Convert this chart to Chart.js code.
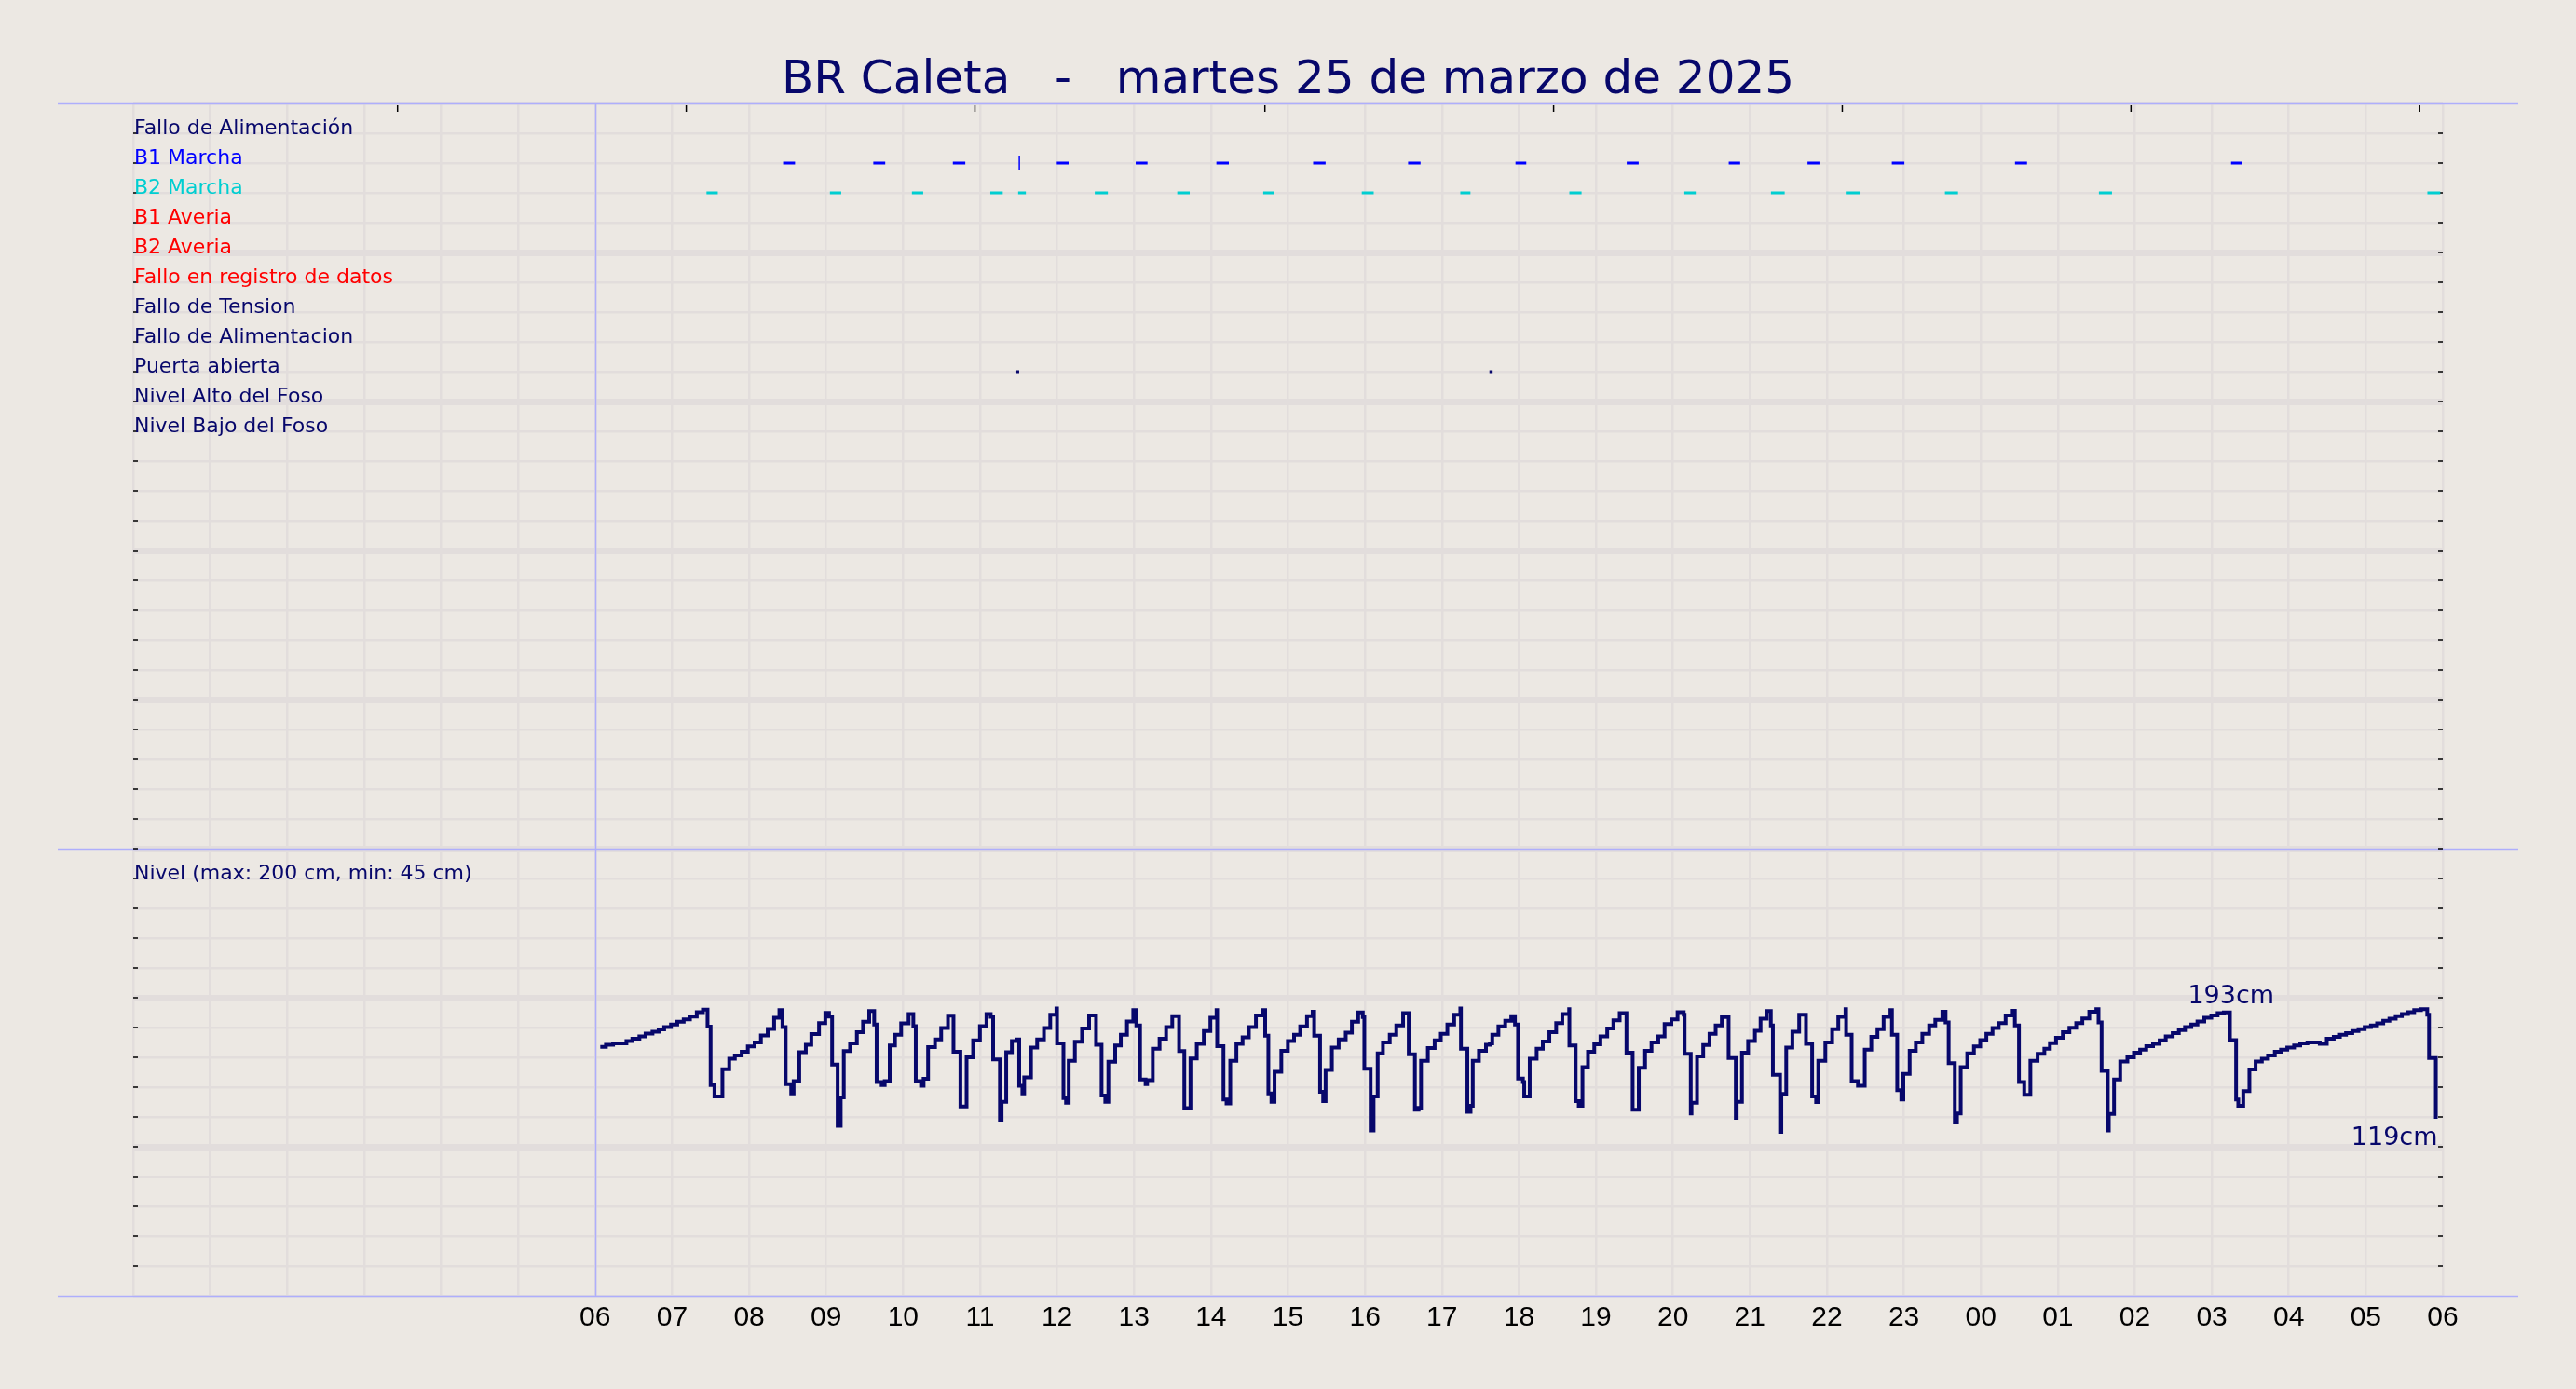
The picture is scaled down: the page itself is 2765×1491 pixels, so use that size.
<!DOCTYPE html>
<html lang="es">
<head>
<meta charset="utf-8">
<title>BR Caleta - nivel y señales</title>
<script src="https://cdn.jsdelivr.net/npm/chart.js@4.4.1/dist/chart.umd.min.js"></script>
<style>
    html, body { margin: 0; padding: 0; background: #ece8e3; }
    #grafico { display: block; }
</style>
</head>
<body>
<canvas id="grafico" width="2765" height="1491"></canvas>
<script>
// ======================== DATOS ========================
// tiempos en minutos desde las 00:00 del 25/03 (360 = 06:00, 1800 = 06:00 del 26/03)
const titulo = 'BR Caleta   -   martes 25 de marzo de 2025';
const horas = ['06', '07', '08', '09', '10', '11', '12', '13', '14', '15', '16', '17', '18',
    '19', '20', '21', '22', '23', '00', '01', '02', '03', '04', '05', '06'];

const senales = ['Fallo de Alimentación', 'B1 Marcha', 'B2 Marcha', 'B1 Averia', 'B2 Averia',
    'Fallo en registro de datos', 'Fallo de Tension', 'Fallo de Alimentacion', 'Puerta abierta',
    'Nivel Alto del Foso', 'Nivel Bajo del Foso'];

const b1Inicio = [506.5, 576.8, 638.8, 719.8, 781.3, 844.2, 919.6, 993.6, 1077.3, 1164, 1243.5, 1304.9, 1370.6, 1466.6, 1635];
const b1Fin = [515.8, 586.1, 648.5, 729, 790.5, 853.9, 929.3, 1003.3, 1085.7, 1173.3, 1252.4, 1314.2, 1380.4, 1476, 1643.5];
const b1Pulsos = [690.6];

const b2Inicio = [446.8, 543, 606.9, 668, 689.7, 749.4, 813.7, 880.7, 957.5, 1034.3, 1119.3, 1208.9, 1276.4, 1334.7, 1412, 1532, 1788];
const b2Fin = [455.6, 551.8, 615.7, 677.7, 695.7, 759.6, 823.4, 889.1, 966.8, 1042.2, 1128.8, 1217.8, 1287.1, 1346.2, 1422.2, 1542.2, 1798];

const puertaInicio = [688.3, 1057];
const puertaFin = [690.5, 1059.5];

const nivelMin = [
    364, 368.4, 374, 384.4, 389, 394.5, 399.3, 404.7, 409.5, 413.8, 419.1, 424, 429, 433.9, 439.2, 444,
    447.6, 450, 453, 459.2, 464.5, 468.9, 474.2, 479, 484.3, 489.2, 494.5, 499.5, 503.6,
    506, 508.5, 512.8, 514.7, 519.1, 524.2, 528.5, 534.5, 539.4, 542.3,
    544.7, 549, 551.4, 553.8, 558.7, 564, 568.8, 573.6,
    577.5, 579.4, 583.3, 585.7, 589.6, 593.7, 598.5, 604.3,
    608, 609.9, 614, 616, 619.5, 624.9, 629.7, 635,
    639.3, 644.7, 649.5, 654.6, 659.9, 665, 668.3,
    670.2, 675.5, 676.8, 680.4, 684.8, 688.9,
    690.5, 693, 694.4, 699.7, 704.5, 709.8, 714.7, 719.5,
    720, 725, 727, 729.1, 733.9, 739.5, 745,
    750.4, 754.7, 757.6, 760, 765.3, 769.7, 774.5, 779.4,
    781.8, 784.7, 789, 790.2, 794.6, 799.9, 805, 809.8,
    815.1, 819.2, 824, 828.9, 834.4, 839.5, 844.3,
    844.8, 849.7, 852.1, 855, 859.8, 864.6, 869.5, 875, 880.6,
    882.2, 884.7, 887.1, 889.5, 894.8, 899.9, 904.7, 909.5, 914.8, 919.2,
    920.4, 925, 927.4, 929.3, 934.2, 939.5, 945, 949.8, 954.7, 958.3,
    959.5, 964.4, 966.7, 969.9, 974, 979.3, 984.4, 989.7,
    994.1, 998.9, 1001.8, 1003.7, 1009, 1014.3, 1019.1, 1024.2, 1029.5, 1034.3,
    1034.8, 1039.8, 1042.3, 1044, 1048.8, 1054.3, 1057.3, 1059.2, 1064, 1069.3, 1074, 1076.9,
    1079.3, 1083.1, 1084.1, 1088.4, 1093.8, 1098.6, 1103.7, 1109, 1113.8, 1119.1,
    1119.3, 1124.2, 1126.6, 1129.5, 1133.8, 1138.7, 1143.5, 1148.8, 1153.6, 1158.5,
    1163.8, 1168.6, 1173.4, 1178.3, 1183.3, 1188.6, 1193.5, 1198.8, 1203.6, 1208.4,
    1209.1, 1213.9, 1214.5, 1218.8, 1223.6, 1228.5, 1233.3, 1238.1,
    1243.4, 1249, 1249.7, 1253.8, 1258.6, 1263.9, 1268.3, 1273.1,
    1276.3, 1277.9, 1283.5, 1284.5, 1288.3, 1293.1, 1298.4,
    1303.7, 1308.5, 1311.6, 1313.3, 1318.8, 1324.1, 1328.9, 1334.5,
    1335, 1339.3, 1344.2, 1349.5, 1354.6, 1359.4, 1364.2, 1369.5,
    1370.7, 1374.8, 1378, 1379.6, 1384.5, 1389.3, 1394.4, 1399.7, 1404.5, 1410,
    1412.5, 1414.9, 1419.7, 1421.4, 1424.3, 1429.4, 1434.6, 1439.5, 1444.3, 1449.1, 1453.9, 1459.3, 1464.8,
    1466.5, 1469.7, 1473.8, 1478.6, 1484.2, 1489.5, 1493.8, 1498.6, 1503.9, 1509, 1514.3, 1519.1, 1524.5, 1530,
    1531.7, 1534.1, 1538.9, 1539.7, 1543.8, 1548.6, 1554.2, 1559.3, 1564.1, 1568.9, 1574.2, 1579.3, 1584.1,
    1589.5, 1594.3, 1599.1, 1604, 1608.8, 1614.1, 1619.6, 1624.5, 1629.3,
    1634.1, 1638.9, 1640.6, 1644.5, 1649.3, 1654.1, 1659, 1663.8, 1669.1, 1673.9, 1678.8, 1684.1, 1688.9,
    1694.5, 1704.1, 1709.6, 1715, 1719.8, 1724.6, 1729.5, 1734.3, 1739.1, 1744, 1748.8, 1753.6, 1758.4,
    1763.3, 1768.1, 1772.9, 1777.7, 1783,
    1787.9, 1789.3, 1794.6, 1796
];
const nivelCm = [
    167, 168.5, 169.4, 171, 172.5, 174.1, 176, 177.2, 178.7, 180.3, 182, 183.9, 185.5, 187.4, 190.3, 192.1,
    180.7, 141.4, 133.8, 152, 159, 161.3, 163.8, 167.3, 170, 174.7, 179.1, 186.5, 191.7,
    180.3, 142, 135.8, 144.1, 163.4, 168.5, 175.6, 183, 189.9, 187.4,
    155.1, 114.1, 133.1, 164.2, 169.4, 176.8, 183.9, 191.1,
    182, 143.5, 141.4, 144.1, 167.9, 175.2, 182.8, 189,
    181, 144.1, 141, 145.6, 166.9, 172, 179.7, 188,
    163.8, 127.1, 160, 171.4, 181, 189, 187.2,
    158.6, 118.2, 130.2, 163.4, 171, 172,
    141, 135.8, 146.6, 166.5, 172, 179.7, 188.6, 192.8,
    169.4, 132.7, 129.6, 157.6, 170.5, 179.3, 188.2,
    168.5, 134.4, 130.2, 157, 167.9, 175.2, 184.1, 191.7,
    181.4, 145.1, 142, 144.7, 165.8, 172.5, 180.3, 187.6,
    164.2, 125.9, 159.2, 169, 177.6, 186.5, 191.7,
    167.5, 131.7, 129, 157.6, 169, 173.5, 180.3, 188.2, 191.7,
    174.5, 135.8, 130.2, 150.3, 164.4, 171, 175.2, 180.8, 187.6, 190.7,
    174.5, 136.9, 130.7, 151.5, 166.5, 172, 176.6, 183.9, 190.1, 187,
    152.4, 111, 133.8, 162.7, 170, 175.2, 181.4, 189.7,
    162.1, 124.9, 126.1, 157.6, 166.3, 171.4, 175.8, 182, 188.6, 192.8,
    165.8, 123.4, 127.5, 157.6, 164.4, 168.5, 169.4, 175.2, 180.8, 184.5, 187.6, 182,
    145.8, 143.5, 133.8, 159, 165.8, 170.6, 176.8, 183, 189, 192.3,
    167.9, 130.7, 127.5, 153.4, 163.8, 168.7, 174.1, 179.3, 184.9, 189.7,
    163.2, 124.9, 153, 164.4, 170, 174.1, 182.4, 185.5, 190.3, 188.6,
    162.3, 122.4, 129.6, 160.6, 168.3, 175.8, 181.4, 187,
    159.6, 119.3, 130.2, 163.2, 171, 177.8, 185.9, 191.1,
    181.4, 148.3, 110, 135.4, 166.5, 177.2, 188.6,
    169, 133.8, 130, 157.6, 170, 178.9, 187.2, 192.3,
    175.2, 144.1, 141, 165.2, 173.7, 178.9, 187.2, 191.7,
    175.2, 137.9, 131.7, 148.9, 164.4, 170, 175.8, 181.4, 185.1, 190.7,
    183.4, 156.1, 116.2, 122.4, 153.4, 162.7, 167.3, 171.6, 175.8, 179.7, 183, 188.2, 191.3,
    181.4, 143.5, 134.8, 157.6, 162.3, 165.8, 169.6, 173.1, 176.8, 179.9, 183, 186.1, 190.7, 192.3,
    183.4, 150.9, 111, 122, 145.1, 157.2, 160, 163.2, 165.2, 167.5, 169, 171.4, 174.1,
    176.2, 178.3, 180.3, 182, 184.1, 186.5, 188.2, 189.7, 190.1,
    171.6, 131.7, 127.5, 137.3, 151.8, 157.2, 159, 161.3, 163.8, 165.2, 166.5, 167.9, 169.4,
    170, 169, 172.5, 173.7, 175.2, 176.2, 177.6, 178.9, 180.3, 181.4, 182.8, 184.5, 185.9,
    187.6, 189, 190.3, 191.7, 192.3,
    188.6, 159.6, 120, 120
];

const nivelTexto = 'Nivel (max: 200 cm, min: 45 cm)';
const marcasSuperiores = [206, 431, 656, 882, 1107, 1332, 1557, 1782];

// ======================== ESTILO ========================
const FONDO = '#ece8e3';
const REJILLA = '#e2dddc';
const AZUL_MARCO = '#aeaefc';
const MARINO = '#07076b';
const coloresSenal = [MARINO, '#0000ff', '#00ced1', '#ff0000', '#ff0000', '#ff0000',
    MARINO, MARINO, MARINO, MARINO, MARINO];

// fila de cada señal (en la misma escala vertical que el nivel)
const filaSenal = (i) => 780 - 20 * i;

function tramos(inicio, fin, fila) {
    const pts = [];
    inicio.forEach((t, i) => {
        pts.push({ x: t, y: fila }, { x: fin[i], y: fila }, { x: fin[i], y: null });
    });
    return pts;
}

const decoracion = {
    id: 'decoracion',
    beforeDraw(chart) {
        const { ctx } = chart;
        ctx.save();
        ctx.fillStyle = FONDO;
        ctx.fillRect(0, 0, chart.width, chart.height);
        ctx.restore();
    },
    beforeDatasetsDraw(chart) {
        const { ctx, chartArea: a, scales: { x, y } } = chart;
        ctx.save();
        // líneas del marco
        ctx.strokeStyle = AZUL_MARCO;
        ctx.lineWidth = 1.5;
        [800, 300, 0].forEach((v) => {
            const py = Math.round(y.getPixelForValue(v)) + 0.5;
            ctx.beginPath();
            ctx.moveTo(62, py);
            ctx.lineTo(2703, py);
            ctx.stroke();
        });
        const px6 = Math.round(x.getPixelForValue(360)) + 0.5;
        ctx.beginPath();
        ctx.moveTo(px6, a.top);
        ctx.lineTo(px6, a.bottom);
        ctx.stroke();

        // marcas pequeñas hacia dentro
        ctx.strokeStyle = '#000';
        ctx.lineWidth = 1.5;
        y.ticks.forEach((t) => {
            if (t.value <= 0 || t.value >= 800) return;
            const py = y.getPixelForValue(t.value);
            ctx.beginPath();
            ctx.moveTo(a.left, py);
            ctx.lineTo(a.left + 5, py);
            ctx.moveTo(a.right - 5, py);
            ctx.lineTo(a.right, py);
            ctx.stroke();
        });
        marcasSuperiores.forEach((m) => {
            const px = x.getPixelForValue(m);
            ctx.beginPath();
            ctx.moveTo(px, a.top + 2);
            ctx.lineTo(px, a.top + 9);
            ctx.stroke();
        });
        ctx.restore();
    },
    afterDatasetsDraw(chart) {
        const { ctx, chartArea: a, scales: { x, y } } = chart;
        ctx.save();
        // título
        ctx.fillStyle = MARINO;
        ctx.font = '50px "DejaVu Sans"';
        ctx.textAlign = 'center';
        ctx.textBaseline = 'alphabetic';
        ctx.fillText(titulo, chart.width / 2, 100);

        // nombres de señales
        ctx.font = '22px "DejaVu Sans"';
        ctx.textAlign = 'left';
        senales.forEach((s, i) => {
            ctx.fillStyle = coloresSenal[i];
            ctx.fillText(s, a.left + 1, y.getPixelForValue(filaSenal(i)) + 1);
        });
        ctx.fillStyle = MARINO;
        ctx.fillText(nivelTexto, a.left + 1, y.getPixelForValue(280) + 1);

        // valores del nivel
        ctx.font = '27px "DejaVu Sans"';
        ctx.textAlign = 'center';
        ctx.fillText('193cm', x.getPixelForValue(1635), y.getPixelForValue(196));
        const ultimo = nivelCm[nivelCm.length - 1];
        ctx.textAlign = 'right';
        ctx.fillText(Math.round(ultimo - 1) + 'cm', x.getPixelForValue(1796), y.getPixelForValue(ultimo) + 30);
        ctx.restore();
    }
};

const datosNivel = nivelMin.map((t, i) => ({ x: t, y: nivelCm[i] }));

new Chart(document.getElementById('grafico'), {
    type: 'line',
    data: {
        datasets: [
            {
                label: 'Nivel',
                data: datosNivel,
                stepped: true,
                borderColor: MARINO,
                borderWidth: 4,
                pointRadius: 0,
                borderJoinStyle: 'miter',
            },
            {
                label: 'B1 Marcha',
                data: tramos(b1Inicio, b1Fin, filaSenal(1)),
                borderColor: '#0000ff',
                borderWidth: 3,
                borderCapStyle: 'butt',
                pointRadius: 0,
            },
            {
                label: 'B1 pulso',
                data: b1Pulsos.map((t) => ({ x: t, y: filaSenal(1) })),
                showLine: false,
                pointStyle: 'line',
                rotation: 90,
                pointRadius: 8,
                borderColor: '#0000ff',
                pointBorderWidth: 1.5,
            },
            {
                label: 'B2 Marcha',
                data: tramos(b2Inicio, b2Fin, filaSenal(2)),
                borderColor: '#00ced1',
                borderWidth: 3,
                borderCapStyle: 'butt',
                pointRadius: 0,
            },
            {
                label: 'Puerta abierta',
                data: tramos(puertaInicio, puertaFin, filaSenal(8)),
                borderColor: MARINO,
                borderWidth: 3,
                borderCapStyle: 'butt',
                pointRadius: 0,
            },
        ],
    },
    options: {
        responsive: false,
        animation: false,
        devicePixelRatio: 1,
        layout: { padding: { left: 143, right: 143, top: 111, bottom: 0 } },
        plugins: { legend: { display: false }, tooltip: { enabled: false } },
        scales: {
            x: {
                type: 'linear',
                min: 0,
                max: 1800,
                afterFit: (s) => { s.height = 100; },
                ticks: {
                    stepSize: 60,
                    autoSkip: false,
                    maxRotation: 0,
                    padding: 6,
                    color: '#000',
                    font: { family: 'Liberation Sans', size: 30 },
                    callback: (v) => (v >= 360 ? horas[(v - 360) / 60] : ''),
                },
                grid: { color: REJILLA, lineWidth: 2.5, drawTicks: false },
                border: { display: false },
            },
            y: {
                min: 0,
                max: 800,
                afterFit: (s) => { s.width = 0; },
                ticks: { display: false, stepSize: 20 },
                grid: {
                    color: REJILLA,
                    drawTicks: false,
                    lineWidth: (c) => (c.tick.value % 100 === 0 && c.tick.value > 0 && c.tick.value < 800 ? 7 : 2.5),
                },
                border: { display: false },
            },
        },
    },
    plugins: [decoracion],
});
</script>
</body>
</html>
